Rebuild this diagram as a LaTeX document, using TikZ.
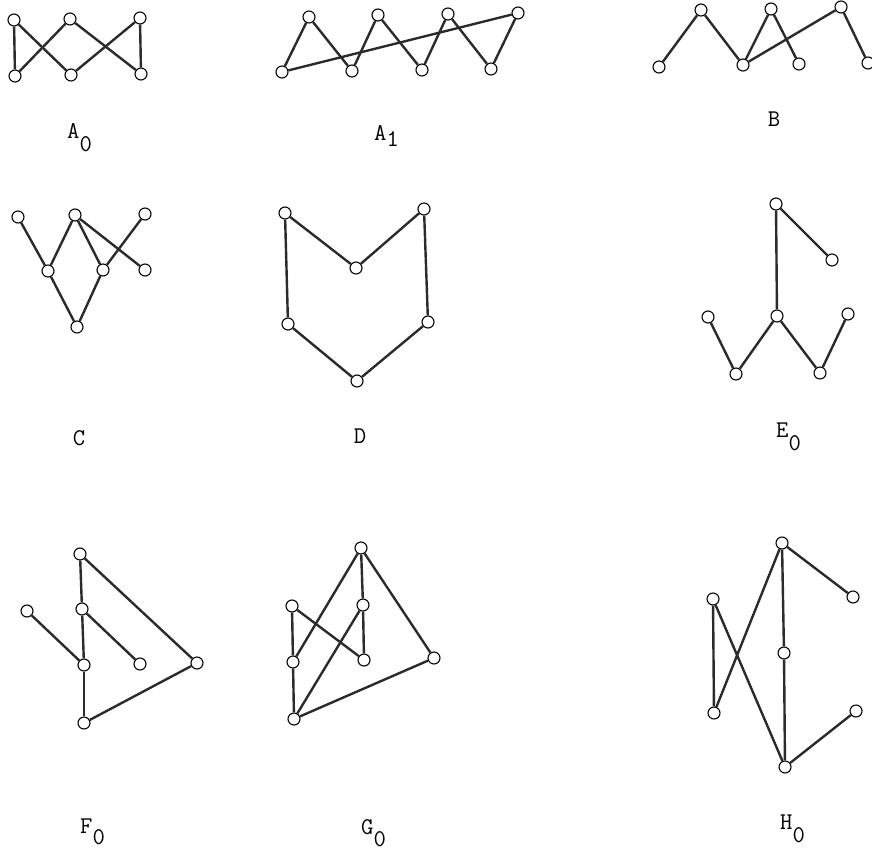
\documentclass[tikz,border=0pt]{standalone}
\usepackage{fontspec}
\usepackage{tikz}
\definecolor{inkGray}{HTML}{2B2B2B}
\newcommand{\sublabel}[3]{#1\raisebox{-#3pt}{#2}}

\begin{document}
\begin{tikzpicture}[
  x=1pt, y=-1pt,
  vtx/.style={circle, draw, fill=white, inner sep=0pt, minimum size=12pt, line width=1.1pt},
  link/.style={draw=inkGray, line width=2.4pt},
  lbl/.style={font=\fontsize{24}{24}\selectfont\ttfamily, inner sep=0pt}
]
\useasboundingbox (0,0) rectangle (872,851);

% A_0
\node[vtx] (a1) at (14,20) {};  \node[vtx] (a2) at (70,19) {};  \node[vtx] (a3) at (140,18) {};
\node[vtx] (a4) at (15,76) {};  \node[vtx] (a5) at (71,75) {};  \node[vtx] (a6) at (141,74) {};
\draw[link] (a1) -- (a4);
\draw[link] (a1) -- (a5);
\draw[link] (a4) -- (a2);
\draw[link] (a2) -- (a6);
\draw[link] (a5) -- (a3);
\draw[link] (a3) -- (a6);
\node[lbl, anchor=base west] (labelA0) at (67,138) {\sublabel{A}{0}{13}};

% A_1
\node[vtx] (p1) at (282,72) {};  \node[vtx] (p2) at (309,17) {};
\node[vtx] (p3) at (352,71) {};  \node[vtx] (p4) at (378,15) {};
\node[vtx] (p5) at (422,70) {};  \node[vtx] (p6) at (448,14) {};
\node[vtx] (p7) at (491,69) {};  \node[vtx] (p8) at (518,13) {};
\draw[link] (p1) -- (p2);
\draw[link] (p2) -- (p3);
\draw[link] (p3) -- (p4);
\draw[link] (p4) -- (p5);
\draw[link] (p5) -- (p6);
\draw[link] (p6) -- (p7);
\draw[link] (p7) -- (p8);
\draw[link] (p1) -- (p8);
\node[lbl, anchor=base west] (labelA1) at (374,140) {\sublabel{A}{1}{6}};

% B
\node[vtx] (b1) at (659,67) {};  \node[vtx] (b2) at (701,10) {};
\node[vtx] (b3) at (743,65) {};  \node[vtx] (b4) at (771,9) {};
\node[vtx] (b5) at (799,64) {};  \node[vtx] (b6) at (841,7) {};
\node[vtx] (b7) at (868,63) {};
\draw[link] (b1) -- (b2);
\draw[link] (b2) -- (b3);
\draw[link] (b3) -- (b4);
\draw[link] (b4) -- (b5);
\draw[link] (b3) -- (b6);
\draw[link] (b6) -- (b7);
\node[lbl] (labelB) at (774,119) {B};

% C
\node[vtx] (c1) at (18,217) {};  \node[vtx] (c2) at (75,215) {};  \node[vtx] (c3) at (145,214) {};
\node[vtx] (c4) at (48,271) {};  \node[vtx] (c5) at (103,270) {}; \node[vtx] (c6) at (145,270) {};
\node[vtx] (c7) at (77,327) {};
\draw[link] (c1) -- (c4);
\draw[link] (c4) -- (c2);
\draw[link] (c2) -- (c5);
\draw[link] (c2) -- (c6);
\draw[link] (c5) -- (c3);
\draw[link] (c4) -- (c7);
\draw[link] (c5) -- (c7);
\node[lbl] (labelC) at (79,438) {C};

% D
\node[vtx] (d1) at (285,213) {};  \node[vtx] (d2) at (424,209) {};
\node[vtx] (d3) at (356,268) {};
\node[vtx] (d4) at (288,324) {};  \node[vtx] (d5) at (428,322) {};
\node[vtx] (d6) at (357,381) {};
\draw[link] (d1) -- (d3);
\draw[link] (d3) -- (d2);
\draw[link] (d1) -- (d4);
\draw[link] (d2) -- (d5);
\draw[link] (d4) -- (d6);
\draw[link] (d6) -- (d5);
\node[lbl] (labelD) at (360,436) {D};

% E_0
\node[vtx] (e1) at (776,204) {};  \node[vtx] (e2) at (832,260) {};
\node[vtx] (e3) at (708,317) {};  \node[vtx] (e4) at (777,316) {};  \node[vtx] (e5) at (848,314) {};
\node[vtx] (e6) at (736,374) {};  \node[vtx] (e7) at (820,373) {};
\draw[link] (e1) -- (e2);
\draw[link] (e1) -- (e4);
\draw[link] (e3) -- (e6);
\draw[link] (e6) -- (e4);
\draw[link] (e4) -- (e7);
\draw[link] (e7) -- (e5);
\node[lbl, anchor=base west] (labelE0) at (776,437) {\sublabel{E}{0}{13}};

% F_0
\node[vtx] (f1) at (80,554) {};
\node[vtx] (f2) at (27,611) {};  \node[vtx] (f3) at (82,609) {};
\node[vtx] (f4) at (84,665) {};  \node[vtx] (f5) at (140,664) {};  \node[vtx] (f6) at (197,663) {};
\node[vtx] (f7) at (84,723) {};
\draw[link] (f1) -- (f3);
\draw[link] (f1) -- (f6);
\draw[link] (f2) -- (f4);
\draw[link] (f3) -- (f4);
\draw[link] (f3) -- (f5);
\draw[link] (f4) -- (f7);
\draw[link] (f7) -- (f6);
\node[lbl, anchor=base west] (labelF0) at (80,833) {\sublabel{F}{0}{11}};

% G_0
\node[vtx] (g1) at (361,548) {};
\node[vtx] (g2) at (292,606) {};  \node[vtx] (g3) at (363,605) {};
\node[vtx] (g4) at (293,662) {};  \node[vtx] (g5) at (364,660) {};  \node[vtx] (g6) at (434,658) {};
\node[vtx] (g7) at (294,719) {};
\draw[link] (g1) -- (g4);
\draw[link] (g1) -- (g3);
\draw[link] (g1) -- (g6);
\draw[link] (g2) -- (g4);
\draw[link] (g2) -- (g5);
\draw[link] (g3) -- (g5);
\draw[link] (g3) -- (g7);
\draw[link] (g4) -- (g7);
\draw[link] (g7) -- (g6);
\node[lbl, anchor=base west] (labelG0) at (361,834) {\sublabel{G}{0}{12}};

% H_0
\node[vtx] (h1) at (782,543) {};  \node[vtx] (h2) at (853,597) {};
\node[vtx] (h3) at (713,599) {};  \node[vtx] (h4) at (784,653) {};
\node[vtx] (h5) at (714,713) {};  \node[vtx] (h6) at (856,711) {};
\node[vtx] (h7) at (785,767) {};
\draw[link] (h1) -- (h2);
\draw[link] (h1) -- (h4);
\draw[link] (h1) -- (h5);
\draw[link] (h3) -- (h5);
\draw[link] (h3) -- (h7);
\draw[link] (h4) -- (h7);
\draw[link] (h7) -- (h6);
\node[lbl, anchor=base west] (labelH0) at (780,829) {\sublabel{H}{0}{13}};
\end{tikzpicture}
\end{document}
